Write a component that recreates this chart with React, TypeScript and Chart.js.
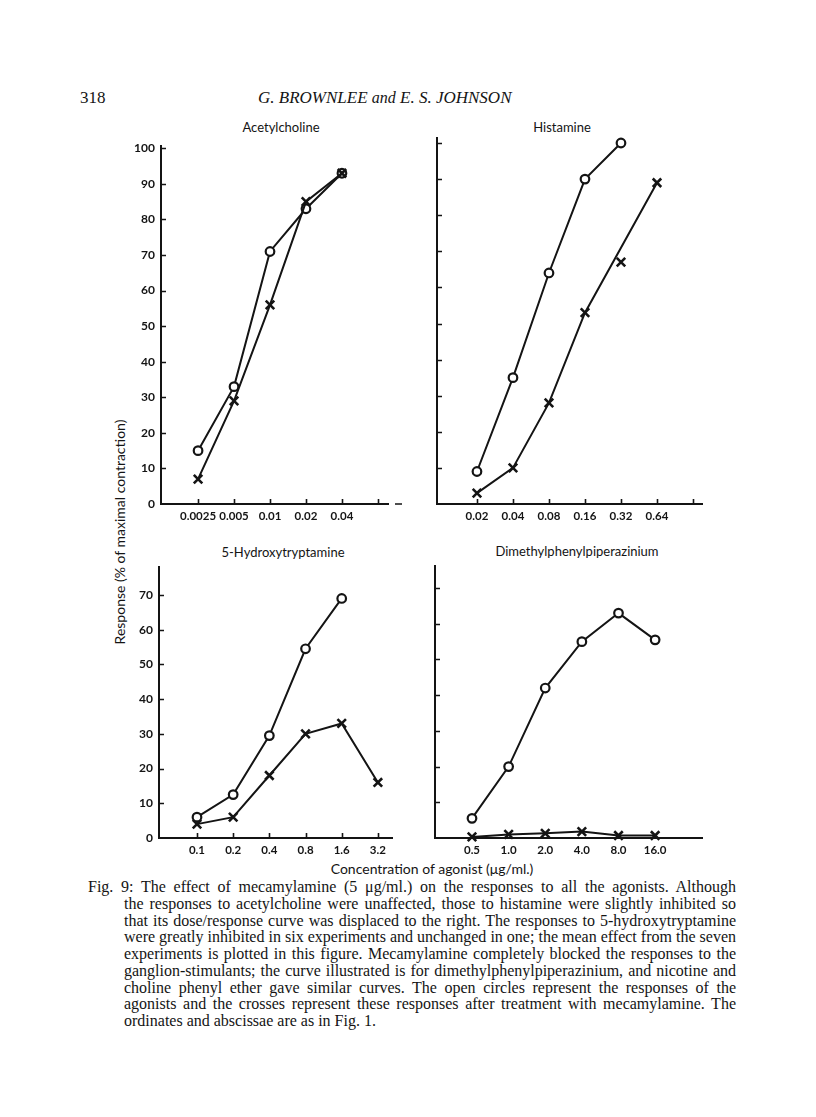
import React, { useEffect, useRef } from "react";
import { Chart, registerables } from "chart.js";

Chart.register(...registerables);

// ---------- data ----------
const acetylLabels = ["0.0025", "0.005", "0.01", "0.02", "0.04"];
const acetylControl = [15, 33, 71, 83, 93];
const acetylMecamylamine = [7, 29, 56, 85, 93];

const histLabels = ["0.02", "0.04", "0.08", "0.16", "0.32", "0.64"];
const histControl = [9, 35, 64, 90, 100];
const histMecamylamine = [3, 10, 28, 53, 67, 89];
const histOffLinePoints = [4]; // the 0.32 cross lies off the drawn curve

const htLabels = ["0.1", "0.2", "0.4", "0.8", "1.6", "3.2"];
const htControl = [6, 12.5, 29.5, 54.5, 69];
const htMecamylamine = [4, 6, 18, 30, 33, 16];

const dmppLabels = ["0.5", "1.0", "2.0", "4.0", "8.0", "16.0"];
const dmppControl = [5.5, 20, 42, 55, 63, 55.5];
const dmppMecamylamine = [0.3, 1, 1.3, 1.8, 0.7, 0.7];

const yTicksTop = [0, 10, 20, 30, 40, 50, 60, 70, 80, 90, 100];
const yTicksBottom = [0, 10, 20, 30, 40, 50, 60, 70];

const captionLines = [
  "Fig. 9: The effect of mecamylamine (5 \u03bcg/ml.) on the responses to all the agonists.  Although",
  "the responses to acetylcholine were unaffected, those to histamine were slightly inhibited so",
  "that its dose/response curve was displaced to the right.  The responses to 5-hydroxytryptamine",
  "were greatly inhibited in six experiments and unchanged in one; the mean effect from the seven",
  "experiments is plotted in this figure.  Mecamylamine completely blocked the responses to the",
  "ganglion-stimulants; the curve illustrated is for dimethylphenylpiperazinium, and nicotine and",
  "choline phenyl ether gave similar curves.  The open circles represent the responses of the",
  "agonists and the crosses represent these responses after treatment with mecamylamine.  The",
  "ordinates and abscissae are as in Fig. 1.",
];

const INK = "#141414";
const SANS = "Lato, 'Open Sans', sans-serif";
const SERIF = "'Liberation Serif', 'DejaVu Serif', serif";

type PanelProps = {
  labels: string[];
  control: number[];
  mec: number[];
  offLine?: number[];
  yTicks: number[];
  showYLabels: boolean;
  xTickCount: number; // number of x tick marks drawn (0 = none)
  dash?: boolean;
  box: { left: number; right: number; top: number; bottom: number };
  xMin: number;
  xMax: number;
  yMax: number;
};

const Y_W = 40;
const X_H = 30;
const PAD_T = 8;
const PAD_R = 18;

function Panel(p: PanelProps) {
  const ref = useRef<HTMLCanvasElement | null>(null);
  const cl = p.box.left - Y_W;
  const ct = p.box.top - PAD_T;
  const cw = p.box.right + PAD_R - cl;
  const ch = p.box.bottom + X_H - ct;

  useEffect(() => {
    if (!ref.current) return;
    const off = p.offLine || [];
    const tickPlugin = {
      id: "innerTicks",
      afterDraw(chart: any) {
        const { ctx, chartArea, scales } = chart;
        const xs = scales.x;
        const ys = scales.y;
        ctx.save();
        ctx.strokeStyle = INK;
        ctx.lineWidth = 1.6;
        ctx.beginPath();
        p.yTicks.forEach((v) => {
          if (v === 0) return;
          const py = Math.round(ys.getPixelForValue(v)) + 0.5;
          ctx.moveTo(chartArea.left, py);
          ctx.lineTo(chartArea.left + 5, py);
        });
        for (let i = 0; i < p.xTickCount; i++) {
          const px = Math.round(xs.getPixelForValue(i)) + 0.5;
          ctx.moveTo(px, chartArea.bottom);
          ctx.lineTo(px, chartArea.bottom - 5);
        }
        if (p.dash) {
          ctx.moveTo(chartArea.right + 7, chartArea.bottom);
          ctx.lineTo(chartArea.right + 14, chartArea.bottom);
        }
        ctx.stroke();
        ctx.restore();
      },
    };
    const yFont = { family: SANS, size: 12, weight: "bold" as const };
    const xFont = { family: SANS, size: 11.5, weight: "bold" as const };
    const crossStyle = {
      pointStyle: "crossRot",
      pointRadius: 6,
      pointBorderWidth: 2.6,
      pointBackgroundColor: INK,
      pointBorderColor: INK,
    };
    const chart = new Chart(ref.current, {
      type: "line",
      data: {
        datasets: [
          {
            data: p.control.map((v, i) => ({ x: i, y: v })),
            borderColor: INK,
            borderWidth: 2,
            pointStyle: "circle",
            pointRadius: 4.3,
            pointBorderWidth: 2.2,
            pointBackgroundColor: "#ffffff",
            pointBorderColor: INK,
            tension: 0,
            clip: false,
            order: 1,
          } as any,
          {
            data: p.mec.map((v, i) => ({ x: i, y: off.includes(i) ? null : v })),
            borderColor: INK,
            borderWidth: 2,
            ...crossStyle,
            spanGaps: true,
            tension: 0,
            clip: false,
            order: 0,
          } as any,
          {
            data: p.mec.map((v, i) => ({ x: i, y: off.includes(i) ? v : null })),
            showLine: false,
            borderColor: INK,
            ...crossStyle,
            clip: false,
            order: 0,
          } as any,
        ],
      },
      options: {
        animation: false,
        responsive: false,
        maintainAspectRatio: false,
        events: [],
        layout: { padding: { top: PAD_T, right: PAD_R, left: 0, bottom: 0 } },
        plugins: { legend: { display: false }, tooltip: { enabled: false } },
        scales: {
          x: {
            type: "linear",
            min: p.xMin,
            max: p.xMax,
            grid: { display: false, drawTicks: false },
            border: { display: true, color: INK, width: 2 },
            afterBuildTicks: (s: any) => {
              s.ticks = p.labels.map((_, i) => ({ value: i }));
            },
            afterFit: (s: any) => {
              s.height = X_H;
            },
            ticks: {
              autoSkip: false,
              maxRotation: 0,
              padding: 5,
              color: INK,
              font: xFont,
              callback: (v: any) => p.labels[v] ?? "",
            },
          },
          y: {
            type: "linear",
            min: 0,
            max: p.yMax,
            grid: { display: false, drawTicks: false },
            border: { display: true, color: INK, width: 2 },
            afterBuildTicks: (s: any) => {
              s.ticks = p.yTicks.map((v) => ({ value: v }));
            },
            afterFit: (s: any) => {
              s.width = Y_W;
            },
            ticks: {
              display: p.showYLabels,
              padding: 6,
              color: INK,
              font: yFont,
              callback: (v: any) => String(v),
            },
          },
        },
      } as any,
      plugins: [tickPlugin],
    });
    return () => chart.destroy();
  }, []);

  return (
    <canvas
      ref={ref}
      width={cw}
      height={ch}
      style={{ position: "absolute", left: cl, top: ct, width: cw, height: ch }}
    />
  );
}

function Label(props: { x: number; y: number; text: string; style?: React.CSSProperties }) {
  return (
    <div
      style={{
        position: "absolute",
        left: props.x,
        top: props.y,
        transform: "translate(-50%, -50%)",
        whiteSpace: "nowrap",
        fontFamily: SANS,
        fontSize: 13,
        color: INK,
        lineHeight: 1,
        ...props.style,
      }}
    >
      {props.text}
    </div>
  );
}

export default function App() {
  const captionTop = 887;
  const captionStep = 16.75;
  return (
    <div style={{ position: "absolute", left: 0, top: 0, width: 816, height: 1117, background: "#fff" }}>
      {/* header */}
      <div style={{ position: "absolute", left: 80, top: 89, fontFamily: SERIF, fontSize: 17, color: INK, lineHeight: 1 }}>
        318
      </div>
      <div
        style={{
          position: "absolute",
          left: 258,
          top: 89,
          fontFamily: SERIF,
          fontStyle: "italic",
          fontSize: 17,
          color: INK,
          lineHeight: 1,
          whiteSpace: "nowrap",
        }}
      >
        G. BROWNLEE <span style={{ fontSize: 16 }}>and</span> E. S. JOHNSON
      </div>

      {/* panel titles */}
      <Label x={281} y={127} text="Acetylcholine" />
      <Label x={562} y={127} text="Histamine" />
      <Label x={283} y={552} text="5-Hydroxytryptamine" />
      <Label x={577} y={551} text="Dimethylphenylpiperazinium" />

      {/* axis titles */}
      <Label
        x={120}
        y={532}
        text="Response (% of maximal contraction)"
        style={{ fontSize: 14, transform: "translate(-50%, -50%) rotate(-90deg)" }}
      />
      <Label x={432} y={869} text={"Concentration of agonist (\u03bcg/ml.)"} style={{ fontSize: 14 }} />

      <Panel
        labels={acetylLabels}
        control={acetylControl}
        mec={acetylMecamylamine}
        yTicks={yTicksTop}
        showYLabels={true}
        xTickCount={acetylLabels.length + 1}
        dash={true}
        box={{ left: 161, right: 388, top: 141, bottom: 504 }}
        xMin={-1.03}
        xMax={5.28}
        yMax={100.6}
      />
      <Panel
        labels={histLabels}
        control={histControl}
        mec={histMecamylamine}
        offLine={histOffLinePoints}
        yTicks={yTicksTop}
        showYLabels={false}
        xTickCount={histLabels.length + 1}
        box={{ left: 437, right: 702, top: 137, bottom: 504 }}
        xMin={-1.11}
        xMax={6.25}
        yMax={101.5}
      />
      <Panel
        labels={htLabels}
        control={htControl}
        mec={htMecamylamine}
        yTicks={yTicksBottom}
        showYLabels={true}
        xTickCount={htLabels.length}
        box={{ left: 159, right: 392, top: 562, bottom: 838 }}
        xMin={-1.05}
        xMax={5.39}
        yMax={78}
      />
      <Panel
        labels={dmppLabels}
        control={dmppControl}
        mec={dmppMecamylamine}
        yTicks={yTicksBottom}
        showYLabels={false}
        xTickCount={0}
        box={{ left: 435, right: 702, top: 565, bottom: 838 }}
        xMin={-1.01}
        xMax={6.28}
        yMax={76.3}
      />

      {/* caption */}
      {captionLines.map((line, i) => {
        const first = i === 0;
        const last = i === captionLines.length - 1;
        const left = first ? 88 : 124;
        return (
          <div
            key={i}
            style={{
              position: "absolute",
              left,
              top: captionTop + i * captionStep - 9,
              width: 736 - left,
              fontFamily: SERIF,
              fontSize: 16,
              lineHeight: "17px",
              color: INK,
              whiteSpace: "nowrap",
              textAlign: last ? "left" : "justify",
              textAlignLast: last ? "left" : "justify",
            } as React.CSSProperties}
          >
            {line}
          </div>
        );
      })}
    </div>
  );
}
